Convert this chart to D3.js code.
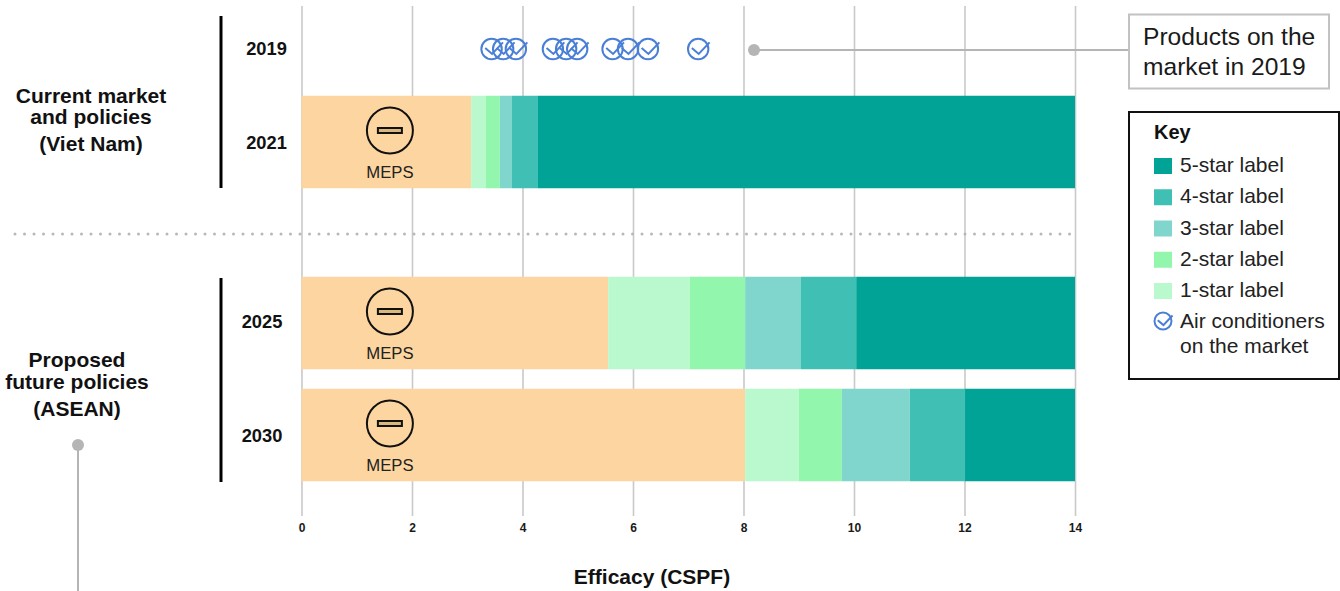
<!DOCTYPE html>
<html lang="en">
<head>
<meta charset="UTF-8">
<title>Efficacy (CSPF)</title>
<style>
  html, body { margin: 0; background: #fff; }
  svg { display: block; font-family: "Liberation Sans", Arial, sans-serif; }
</style>
</head>
<body>
<script src="https://cdn.jsdelivr.net/npm/d3@7"></script>
<script>
// data
var barYears = ['2021', '2025', '2030'];
var bandNames = ['MEPS', '1-star label', '2-star label', '3-star label', '4-star label', '5-star label'];
// upper edge of each band, one array per bar year (CSPF)
var edges2021 = [3.07, 3.33, 3.59, 3.81, 4.28, 14];
var edges2025 = [5.55, 7.03, 8.03, 9.04, 10.04, 14];
var edges2030 = [8.03, 9.0, 9.78, 11.01, 12.01, 14];
var products2019 = [3.44, 3.65, 3.88, 4.55, 4.79, 4.99, 5.63, 5.91, 6.27, 7.18];
var xTicks = [0, 2, 4, 6, 8, 10, 12, 14];
var keyOrder = ['5-star label', '4-star label', '3-star label', '2-star label', '1-star label'];

var width = 1340, height = 591;
var barHeight = 92.5;
var bandColors = ['#fdd5a0', '#baf9cd', '#93f6ad', '#80d6cd', '#40c0b5', '#00a396'];
var blue = '#4a7fd6', grey = '#b5b5b5';

var svg = d3.select('body').append('svg')
    .attr('width', width)
    .attr('height', height);

var x = d3.scaleLinear().domain([0, 14]).range([301.5, 1075]);
var y = d3.scaleOrdinal().domain(['2019', '2021', '2025', '2030']).range([49, 142, 323, 435]);
var color = d3.scaleOrdinal().domain(bandNames).range(bandColors);

// axis and gridlines, under the bars
var axis = svg.append('g')
    .attr('transform', 'translate(0,516)')
    .call(d3.axisBottom(x).tickValues(xTicks).tickSizeInner(-510).tickSizeOuter(0));
axis.select('.domain').remove();
axis.selectAll('line').attr('stroke', '#c9c9c9').attr('stroke-width', 1.6);
axis.selectAll('text')
    .attr('y', 16)
    .attr('dy', 0)
    .attr('font-family', '"Liberation Sans", Arial, sans-serif')
    .attr('font-size', 12)
    .attr('font-weight', 700)
    .attr('fill', '#1a1a1a');

// stacked bars
var edgesByYear = {'2021': edges2021, '2025': edges2025, '2030': edges2030};
var bars = svg.selectAll('.bar')
    .data(barYears)
    .enter().append('g')
    .attr('class', 'bar');
bars.selectAll('rect')
    .data(function(year) {
        var edges = edgesByYear[year];
        return edges.map(function(e, i) {
            return {year: year, name: bandNames[i], from: i ? edges[i - 1] : 0, to: e};
        });
    })
    .enter().append('rect')
    .attr('x', function(d) { return x(d.from); })
    .attr('width', function(d) { return x(d.to) - x(d.from); })
    .attr('y', function(d) { return y(d.year) - barHeight / 2; })
    .attr('height', barHeight)
    .attr('fill', function(d) { return color(d.name); });

// MEPS symbol on each bar
bars.append('circle')
    .attr('cx', x(1.6))
    .attr('cy', function(d) { return y(d) - 11.5; })
    .attr('r', 23)
    .attr('fill', 'none')
    .attr('stroke', '#111')
    .attr('stroke-width', 2);
bars.append('rect')
    .attr('x', x(1.6) - 12)
    .attr('y', function(d) { return y(d) - 14; })
    .attr('width', 24)
    .attr('height', 5)
    .attr('fill', '#d8b87e')
    .attr('stroke', '#111')
    .attr('stroke-width', 2);
bars.append('text')
    .attr('x', x(1.6))
    .attr('y', function(d) { return y(d) + 36; })
    .attr('text-anchor', 'middle')
    .attr('font-size', 16.7)
    .attr('fill', '#222')
    .text('MEPS');

// tick-in-circle marker
function drawCheck(sel, r, sw) {
    sel.append('circle')
        .attr('r', r)
        .attr('fill', 'none')
        .attr('stroke', blue)
        .attr('stroke-width', sw);
    sel.append('path')
        .attr('d', d3.line()([[-r * 0.62, -r * 0.1], [r * 0.05, r * 0.48], [r * 1.12, -r * 0.65]]))
        .attr('fill', 'none')
        .attr('stroke', blue)
        .attr('stroke-width', sw);
}

svg.selectAll('.product')
    .data(products2019)
    .enter().append('g')
    .attr('class', 'product')
    .attr('transform', function(d) { return 'translate(' + x(d) + ',' + y('2019') + ')'; })
    .call(drawCheck, 10.2, 2);

// year labels
svg.selectAll('.year')
    .data(y.domain())
    .enter().append('text')
    .attr('class', 'year')
    .attr('x', function(d) { return +d < 2025 ? 266.5 : 262; })
    .attr('y', function(d) { return y(d) + 6 + (d === '2025' ? -1 : d === '2030' || d === '2021' ? 1 : 0); })
    .attr('text-anchor', 'middle')
    .attr('font-size', 18.3)
    .attr('font-weight', 700)
    .attr('fill', '#111')
    .text(function(d) { return d; });

// group brackets
svg.append('line').attr('x1', 221).attr('x2', 221).attr('y1', 16).attr('y2', 188)
    .attr('stroke', '#000').attr('stroke-width', 3);
svg.append('line').attr('x1', 221).attr('x2', 221).attr('y1', 278).attr('y2', 482)
    .attr('stroke', '#000').attr('stroke-width', 3);

// group labels
function textLines(lines, xPos, ys, size, weight, anchor, fill) {
    lines.forEach(function(t, i) {
        svg.append('text')
            .attr('x', xPos)
            .attr('y', ys[i])
            .attr('text-anchor', anchor)
            .attr('font-size', size)
            .attr('font-weight', weight)
            .attr('fill', fill)
            .text(t);
    });
}
textLines(['Current market', 'and policies', '(Viet Nam)'], 91, [103, 124, 151], 21, 700, 'middle', '#111');
textLines(['Proposed', 'future policies', '(ASEAN)'], 77, [367, 389, 416], 21, 700, 'middle', '#111');

// dotted divider
svg.append('line')
    .attr('x1', 15).attr('x2', 1075).attr('y1', 234).attr('y2', 234)
    .attr('stroke', '#b8b8b8')
    .attr('stroke-width', 3)
    .attr('stroke-linecap', 'round')
    .attr('stroke-dasharray', '0 9.5');

// callout for 2019 products
svg.append('line').attr('x1', 754).attr('x2', 1129).attr('y1', 50).attr('y2', 50)
    .attr('stroke', grey).attr('stroke-width', 2);
svg.append('circle').attr('cx', 754).attr('cy', 50).attr('r', 6).attr('fill', grey);
svg.append('rect').attr('x', 1129).attr('y', 14.5).attr('width', 200).attr('height', 74)
    .attr('fill', '#fff').attr('stroke', '#c2c2c2').attr('stroke-width', 2);
textLines(['Products on the', 'market in 2019'], 1143, [45, 75], 24.6, 400, 'start', '#1a1a1a');

// leader below the ASEAN label
svg.append('line').attr('x1', 78).attr('x2', 78).attr('y1', 445).attr('y2', 591)
    .attr('stroke', grey).attr('stroke-width', 2);
svg.append('circle').attr('cx', 78).attr('cy', 445).attr('r', 6).attr('fill', grey);

// x title
svg.append('text')
    .attr('x', 652).attr('y', 584)
    .attr('text-anchor', 'middle')
    .attr('font-size', 21)
    .attr('font-weight', 700)
    .attr('fill', '#111')
    .text('Efficacy (CSPF)');

// key
svg.append('rect').attr('x', 1129).attr('y', 112).attr('width', 210).attr('height', 267)
    .attr('fill', '#fff').attr('stroke', '#111').attr('stroke-width', 2);
textLines(['Key'], 1154, [139], 20, 700, 'start', '#111');
var keyY = d3.scalePoint().domain(keyOrder).range([166, 291]);
var keyRows = svg.selectAll('.key-row')
    .data(keyOrder)
    .enter().append('g')
    .attr('class', 'key-row')
    .attr('transform', function(d) { return 'translate(1154,' + keyY(d) + ')'; });
keyRows.append('rect')
    .attr('y', -8)
    .attr('width', 18)
    .attr('height', 16)
    .attr('fill', function(d) { return color(d); });
keyRows.append('text')
    .attr('x', 26)
    .attr('y', 6)
    .attr('font-size', 21)
    .attr('fill', '#222')
    .text(function(d) { return d; });
svg.append('g')
    .attr('transform', 'translate(1163,321)')
    .call(drawCheck, 8.5, 2);
textLines(['Air conditioners', 'on the market'], 1180, [328, 353], 21, 400, 'start', '#222');
</script>
</body>
</html>
